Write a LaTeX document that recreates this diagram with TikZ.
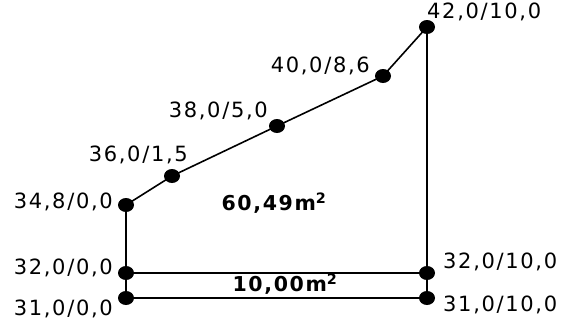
\documentclass[tikz,border=0pt]{standalone}
\usepackage{fontspec}
\setmainfont{DejaVu Sans}[LetterSpace=8]
\usetikzlibrary{shapes.geometric, positioning}

\begin{document}
\begin{tikzpicture}[
    x=1pt, y=-1pt,
    pt/.style={ellipse, fill=black, draw=none, minimum width=16pt, minimum height=14pt, inner sep=0pt},
    edge/.style={draw, line width=1.6pt},
    lbl/.style={font=\fontsize{21}{21}\selectfont, inner sep=0pt},
    area/.style={font=\bfseries\fontsize{20.5}{20.5}\selectfont, inner sep=0pt}
]
\useasboundingbox (0,0) rectangle (563,327);

% Survey points
\coordinate (a) at (126,205);
\coordinate (b) at (172,176);
\coordinate (c) at (277,126);
\coordinate (d) at (383,76);
\coordinate (e) at (427,27);
\coordinate (f) at (427,273);
\coordinate (g) at (126,273);
\coordinate (h) at (126,298);
\coordinate (i) at (427,298);

% Boundary
\draw[edge] (a) -- (b) -- (c) -- (d) -- (e) -- (f) -- (g) -- cycle;
\draw[edge] (g) -- (h) -- (i) -- (f);

% Dots
\foreach \p in {a,b,c,d,e,f,g,h,i}
  \node[pt] (\p dot) at (\p) {};

% Labels
\node[lbl, anchor=east] (alab) at (113,202) {34,8/0,0};
\node[lbl, anchor=east] (blab) at (188,155) {36,0/1,5};
\node[lbl, anchor=east] (clab) at (268,111) {38,0/5,0};
\node[lbl, anchor=east] (dlab) at (370,66) {40,0/8,6};
\node[lbl, anchor=west] (elab) at (427,12) {42,0/10,0};
\node[lbl, anchor=west] (flab) at (443,262) {32,0/10,0};
\node[lbl, anchor=east] (glab) at (113,268) {32,0/0,0};
\node[lbl, anchor=east] (hlab) at (113,309) {31,0/0,0};
\node[lbl, anchor=west] (ilab) at (443,305) {31,0/10,0};

% Areas
\node[area] (bigarea) at (274,203) {60,49m\textsuperscript{2}};
\node[area] (striparea) at (285,284) {10,00m\textsuperscript{2}};

\end{tikzpicture}
\end{document}
